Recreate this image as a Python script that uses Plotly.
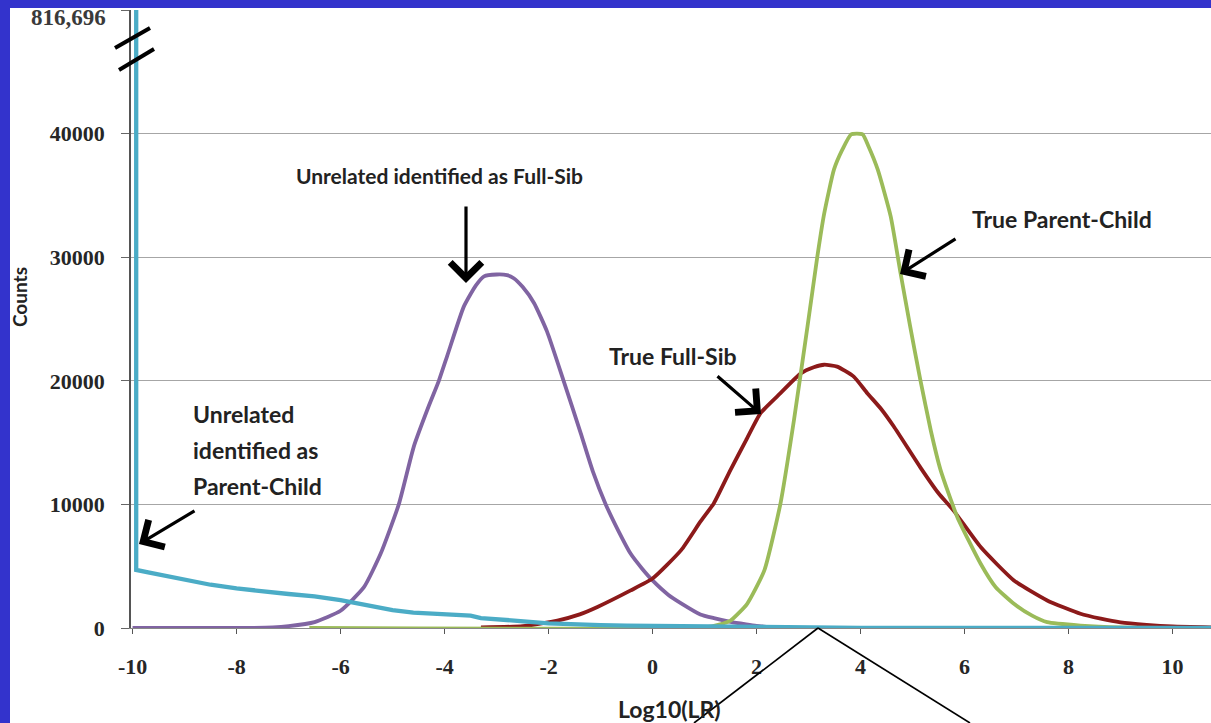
import plotly.graph_objects as go

# ---------------- data ----------------
unrel_fs_x = [-10, -8, -7.3, -7.0, -6.5, -6.0, -5.55, -5.23, -4.88, -4.59, -4.3, -4.11, -3.95, -3.63,
              -3.4, -3.24, -3.0, -2.8, -2.67, -2.5, -2.28, -2.03, -1.71, -1.38, -1.15, -0.9, -0.65,
              -0.42, -0.2, 0, 0.3, 0.55, 0.92, 1.18, 1.5, 1.8, 2.0, 2.3]
unrel_fs_y = [0, 0, 50, 150, 480, 1400, 3300, 6000, 10000, 14700, 18000, 20000, 22000, 26000,
              27700, 28450, 28600, 28550, 28300, 27600, 26300, 24000, 20000, 15750, 12700, 10000, 7800,
              6000, 4800, 3850, 2700, 2000, 1100, 800, 500, 300, 180, 60]

true_fs_x = [-3.3, -2.5, -1.83, -1.4, -1.06, -0.42, 0, 0.55, 0.92, 1.18, 1.5, 1.8, 2.08, 2.46, 2.85,
             3.1, 3.3, 3.55, 3.87, 4.13, 4.4, 4.64, 5.15, 5.5, 5.79, 6.31, 6.95, 7.59, 8.23, 8.62,
             9.0, 9.5, 10.0, 10.74]
true_fs_y = [50, 150, 600, 1100, 1700, 3040, 4000, 6300, 8600, 10100, 12800, 15200, 17400, 19000, 20600,
             21100, 21300, 21150, 20340, 19000, 17700, 16300, 13000, 10900, 9500, 6550, 3850, 2230, 1150, 750,
             450, 250, 120, 50]

true_pc_x = [-6.6, 1.0, 1.3, 1.5, 1.82, 2.15, 2.46, 2.72, 2.98, 3.17, 3.3, 3.49, 3.65, 3.82, 4.04, 4.15,
             4.33, 4.58, 4.77, 4.95, 5.15, 5.35, 5.54, 5.86, 6.31, 6.6, 6.95, 7.3, 7.59, 8.23, 9.0, 10.74]
true_pc_y = [0, 50, 300, 600, 1960, 4660, 10070, 16830, 24400, 30070, 33500, 37100, 38700, 39940, 39940, 39000,
             37100, 33300, 28700, 24500, 20070, 16000, 12770, 8990, 5200, 3300, 1960, 1000, 470, 200, 50, 0]

unrel_pc_x = [-9.93, -9.93, -9.7, -9.4, -9.0, -8.5, -8.0, -7.4, -7.0, -6.5, -6.0, -5.5, -5.0, -4.6, -4.0,
              -3.5, -3.3, -3.0, -2.6, -2.0, -1.5, -1.0, -0.5, 0, 0.5, 1.0, 1.5, 2.0, 3.0, 4.0, 6.0, 8.0, 10.74]
unrel_pc_y = [816696, 4700, 4500, 4250, 3900, 3500, 3200, 2900, 2750, 2550, 2250, 1850, 1450, 1250, 1150,
              1000, 800, 680, 580, 380, 280, 230, 200, 180, 130, 90, 60, 40, 20, 10, 5, 2, 0]

x_ticks = [-10, -8, -6, -4, -2, 0, 2, 4, 6, 8, 10]
x_tick_text = ["-10", "-8", "-6", "-4", "-2", "0", "2", "4", "6", "8", "10"]
y_ticks = [0, 10000, 20000, 30000, 40000, 50000]
y_tick_text = ["0", "10000", "20000", "30000", "40000", ""]
top_label = "816,696"

# ---------------- layout helpers (pixel -> paper) ----------------
W, H = 1211, 723
L, R, T, B = 131, 0, 10, 95
PW, PH = W - L - R, H - T - B


def px(xp):
    return (xp - L) / PW


def py(yp):
    return (H - B - yp) / PH


SANS = "Lato"
SERIF = "Liberation Serif"
TXT = "#222222"
TICKFONT = dict(family=SERIF, size=22, color="#262626", weight="bold")

fig = go.Figure()
for xs, ys, col, wd, nm in [
    (unrel_fs_x, unrel_fs_y, "#8064A2", 3.8, "Unrelated (Full-Sib test)"),
    (true_fs_x, true_fs_y, "#8C1A1A", 3.8, "True Full-Sib"),
    (true_pc_x, true_pc_y, "#9BBB59", 3.8, "True Parent-Child"),
]:
    fig.add_trace(go.Scatter(x=xs, y=ys, mode="lines", name=nm,
                             line=dict(color=col, width=wd, shape="spline", smoothing=0.5)))
fig.add_trace(go.Scatter(x=unrel_pc_x, y=unrel_pc_y, mode="lines", name="Unrelated (Parent-Child test)",
                         line=dict(color="#4BACC6", width=4.3)))

fig.update_layout(
    width=W, height=H, autosize=False,
    margin=dict(l=L, r=R, t=T, b=B, pad=0),
    paper_bgcolor="white", plot_bgcolor="white",
    showlegend=False,
    xaxis=dict(range=[-10.03, 10.74], tickvals=x_ticks, ticktext=x_tick_text, ticks="outside", ticklen=5,
               tickcolor="#555555", showgrid=False, zeroline=False, showline=True, linecolor="#888888",
               linewidth=1, tickfont=TICKFONT, ticklabelstandoff=14),
    yaxis=dict(range=[0, 50000], tickvals=y_ticks, ticktext=y_tick_text, ticks="outside", ticklen=8,
               tickcolor="#666666", showgrid=True, gridcolor="#A6A6A6", gridwidth=1, zeroline=False,
               showline=True, linecolor="#555555", linewidth=1.5,
               tickfont=TICKFONT, ticklabelstandoff=12),
)

ann = []
# top broken-axis label
ann.append(dict(x=px(108), y=py(18), xref="paper", yref="paper", text="<b>%s</b>" % top_label,
                showarrow=False, xanchor="right", yanchor="middle",
                font=dict(family=SERIF, size=23, color="#3a3a3a")))
# axis titles
ann.append(dict(x=px(19), y=py(297), xref="paper", yref="paper", text="<b>Counts</b>", textangle=-90,
                showarrow=False, xanchor="center", yanchor="middle", font=dict(family=SANS, size=19, color=TXT)))
ann.append(dict(x=px(669), y=py(709), xref="paper", yref="paper", text="<b>Log10(LR)</b>",
                showarrow=False, xanchor="center", yanchor="middle", font=dict(family=SANS, size=23, color=TXT)))
# labels
labels = [
    ("Unrelated identified as Full-Sib", 439, 175, "center", 21),
    ("True Full-Sib", 673, 356, "center", 23),
    ("True Parent-Child", 1062, 219, "center", 23),
    ("Unrelated", 191, 414, "left", 23),
    ("identified as", 191, 450, "left", 23),
    ("Parent-Child", 191, 486, "left", 23),
]
for t, xx, yy, anc, fs in labels:
    ann.append(dict(x=px(xx), y=py(yy), xref="paper", yref="paper", text="<b>%s</b>" % t,
                    showarrow=False, xanchor=anc, yanchor="middle",
                    font=dict(family=SANS, size=fs, color=TXT)))
# arrows: (tail px, tail py, tip px, tip py)
arrows = [
    (466, 205, 466, 283),
    (716, 375, 761, 414),
    (957, 238, 900, 274),
    (196, 510, 139, 544),
]
for tx, ty, hx, hy in arrows:
    ann.append(dict(x=px(hx), y=py(hy), xref="paper", yref="paper", ax=tx - hx, ay=ty - hy,
                    text="", showarrow=True, arrowhead=4, arrowsize=1.9, arrowwidth=3.2,
                    arrowcolor="black", standoff=0, startstandoff=0))
fig.update_layout(annotations=ann)

shapes = []
BLUE = "#3333CC"
# frame bars
shapes.append(dict(type="rect", xref="paper", yref="paper", x0=px(0), x1=px(10), y0=py(H), y1=py(0),
                   fillcolor=BLUE, line=dict(width=0), layer="above"))
shapes.append(dict(type="rect", xref="paper", yref="paper", x0=px(0), x1=px(W), y0=py(8), y1=py(0),
                   fillcolor=BLUE, line=dict(width=0), layer="above"))
# axis-break marks
for (x0, y0, x1, y1) in [(115, 48, 150, 28), (119, 70, 154, 49)]:
    shapes.append(dict(type="line", xref="paper", yref="paper", x0=px(x0), y0=py(y0), x1=px(x1), y1=py(y1),
                       line=dict(color="black", width=4), layer="above"))
# stray pointer lines at the bottom
for (x0, y0, x1, y1) in [(694, 723, 818, 628), (818, 628, 970, 723)]:
    shapes.append(dict(type="line", xref="paper", yref="paper", x0=px(x0), y0=py(y0), x1=px(x1), y1=py(y1),
                       line=dict(color="black", width=1.6), layer="above"))
fig.update_layout(shapes=shapes)

fig.write_html("out.html")
